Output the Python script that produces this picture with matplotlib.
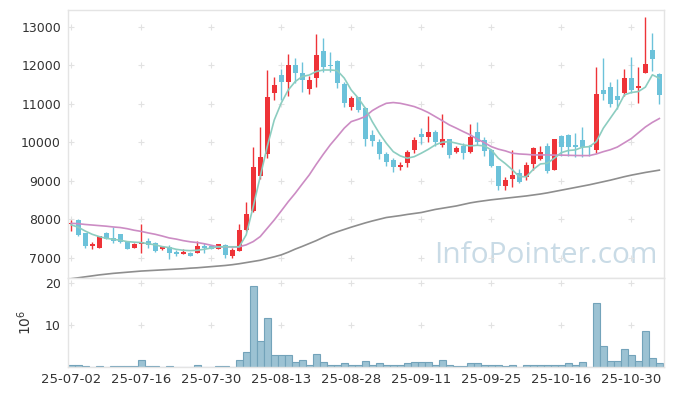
import matplotlib
matplotlib.use("Agg")
import matplotlib.pyplot as plt

# trading days 2025-07-02 .. 2025-11-05
dates = ["07-02", "07-03", "07-04", "07-07", "07-08", "07-09", "07-10", "07-11", "07-14", "07-15",
         "07-16", "07-17", "07-18", "07-21", "07-22", "07-23", "07-24", "07-25", "07-28", "07-29",
         "07-30", "07-31", "08-01", "08-04", "08-05", "08-06", "08-07", "08-08", "08-11", "08-12",
         "08-13", "08-14", "08-18", "08-19", "08-20", "08-21", "08-22", "08-25", "08-26", "08-27",
         "08-28", "08-29", "09-01", "09-02", "09-03", "09-04", "09-05", "09-08", "09-09", "09-10",
         "09-11", "09-12", "09-15", "09-16", "09-17", "09-18", "09-19", "09-22", "09-23", "09-24",
         "09-25", "09-26", "09-29", "09-30", "10-01", "10-02", "10-10", "10-13", "10-14", "10-15",
         "10-16", "10-17", "10-20", "10-21", "10-22", "10-23", "10-24", "10-27", "10-28", "10-29",
         "10-30", "10-31", "11-03", "11-04", "11-05"]

opens = [7880, 7990, 7640, 7300, 7270, 7660, 7530, 7620, 7420, 7270,
         7350, 7440, 7380, 7230, 7280, 7160, 7110, 7140, 7140, 7320,
         7320, 7230, 7340, 7060, 7190, 7730, 8230, 9140, 9700, 11290,
         11750, 11580, 12010, 11800, 11380, 11670, 12380, 12010, 12120, 11520,
         10930, 11170, 10890, 10190, 10000, 9700, 9550, 9370, 9460, 9800,
         10210, 10140, 10270, 9920, 10090, 9740, 9910, 9760, 10260, 10070,
         9800, 9390, 8880, 9060, 9200, 9090, 9440, 9580, 9910, 9290,
         10170, 10200, 9940, 10070, 9900, 9790, 11360, 11430, 11210, 11290,
         11670, 11410, 11810, 12400, 11780]
highs = [7990, 8010, 7660, 7410, 7580, 7670, 7800, 7630, 7430, 7380,
         7880, 7520, 7420, 7300, 7330, 7200, 7220, 7150, 7440, 7380,
         7330, 7360, 7360, 7270, 7880, 8450, 9880, 10390, 11880, 11690,
         11900, 12300, 12190, 12080, 11730, 12810, 12710, 12340, 12130, 11560,
         11210, 11190, 10920, 10330, 10080, 9740, 9600, 9480, 9800, 10150,
         10370, 10690, 10330, 10740, 10100, 9900, 9980, 10470, 10540, 10130,
         9830, 9400, 9090, 9790, 9310, 9500, 9890, 9900, 9980, 10100,
         10200, 10220, 10240, 10390, 9940, 11950, 12190, 11580, 11650, 11900,
         12230, 11960, 13250, 12840, 11800]
lows = [7700, 7580, 7250, 7230, 7260, 7480, 7380, 7380, 7220, 7250,
        7120, 7260, 7160, 7210, 6970, 7060, 7100, 7050, 7130, 7140,
        7220, 7220, 7000, 6990, 7180, 7700, 8200, 9040, 9590, 11090,
        11100, 11210, 11550, 11300, 11260, 11450, 11820, 11840, 11410, 10910,
        10830, 10780, 9910, 9910, 9560, 9390, 9230, 9290, 9370, 9720,
        9960, 10000, 9910, 9890, 9590, 9720, 9560, 9720, 9940, 9650,
        9350, 8770, 8770, 8850, 8940, 9030, 9290, 9540, 9200, 9280,
        9640, 9640, 9630, 9630, 9640, 9720, 11100, 10930, 10870, 11200,
        11280, 11030, 11800, 11860, 10990]
closes = [7900, 7600, 7300, 7360, 7570, 7490, 7440, 7410, 7240, 7360,
          7410, 7340, 7190, 7280, 7120, 7100, 7160, 7060, 7310, 7270,
          7230, 7350, 7080, 7210, 7730, 8140, 9370, 9630, 11170, 11490,
          11580, 12010, 11800, 11610, 11620, 12270, 11950, 11990, 11550, 11020,
          11150, 10830, 10080, 10040, 9690, 9500, 9370, 9420, 9750, 10050,
          10140, 10260, 10000, 10080, 9680, 9850, 9720, 10150, 10020, 9780,
          9390, 8870, 9030, 9160, 8960, 9420, 9860, 9750, 9260, 10090,
          9890, 9890, 9870, 9890, 9890, 11260, 11250, 11000, 11090, 11670,
          11360, 11470, 12040, 12170, 11230]
# volume, millions of shares
volumes = [0.4, 0.4, 0.2, 0.05, 0.2, 0.05, 0.2, 0.2, 0.2, 0.2,
           1.6, 0.2, 0.2, 0.05, 0.2, 0.05, 0.05, 0.05, 0.4, 0.1,
           0.05, 0.2, 0.2, 0.1, 1.6, 3.7, 19.2, 6.3, 11.6, 2.8,
           2.8, 2.8, 1.1, 1.8, 0.6, 3.0, 1.1, 0.6, 0.4, 0.9,
           0.4, 0.4, 1.4, 0.4, 0.9, 0.4, 0.4, 0.4, 0.9, 1.1,
           1.1, 1.1, 0.4, 1.8, 0.4, 0.2, 0.2, 0.9, 0.9, 0.4,
           0.4, 0.6, 0.2, 0.6, 0.1, 0.4, 0.6, 0.4, 0.6, 0.6,
           0.6, 0.9, 0.4, 1.1, 0.1, 15.2, 4.9, 1.4, 1.4, 4.4,
           2.8, 1.4, 8.7, 2.1, 0.9]

# moving averages
ma_short = [7860, 7800, 7700, 7615, 7555, 7510, 7485, 7460, 7425, 7410,
            7400, 7370, 7340, 7295, 7270, 7225, 7200, 7190, 7200, 7225,
            7260, 7290, 7290, 7290, 7290, 7600, 8330, 9110, 9890, 10580,
            11020, 11360, 11580, 11710, 11750, 11840, 11880, 11880, 11865, 11670,
            11360, 11150, 10890, 10540, 10240, 9980, 9760, 9650, 9590, 9630,
            9720, 9820, 9935, 10005, 10020, 9980, 9935, 9910, 9925, 9910,
            9805, 9590, 9450, 9290, 9110, 9110, 9300, 9440, 9460, 9590,
            9735, 9790, 9805, 9875, 9890, 10020, 10370, 10630, 10890, 11235,
            11295, 11320, 11435, 11755, 11665]
ma_mid = [7900, 7890, 7870, 7855, 7840, 7825, 7805, 7790, 7760, 7720,
          7690, 7650, 7615, 7570, 7520, 7490, 7450, 7420, 7400, 7370,
          7330, 7290, 7290, 7285, 7290, 7340, 7425, 7555, 7770, 7985,
          8220, 8460, 8680, 8920, 9155, 9430, 9690, 9935, 10150, 10370,
          10540, 10600, 10670, 10825, 10930, 11015, 11035, 11015, 10975, 10930,
          10860, 10775, 10670, 10565, 10455, 10370, 10280, 10195, 10085, 9995,
          9890, 9825, 9780, 9720, 9700, 9690, 9675, 9675, 9675, 9670,
          9670, 9665, 9660, 9658, 9658, 9700, 9760, 9810, 9880, 9990,
          10100, 10250, 10400, 10520, 10620]
ma_long = [6460, 6485, 6510, 6535, 6560, 6580, 6600, 6615, 6630, 6645,
           6660, 6670, 6680, 6690, 6700, 6710, 6720, 6735, 6745, 6760,
           6775, 6790, 6805, 6825, 6850, 6880, 6910, 6940, 6985, 7030,
           7080, 7150, 7230, 7300, 7375, 7450, 7535, 7615, 7680, 7740,
           7800, 7855, 7910, 7960, 8005, 8050, 8075, 8100, 8130, 8155,
           8180, 8220, 8260, 8290, 8320, 8350, 8390, 8430, 8460, 8485,
           8510, 8530, 8550, 8570, 8590, 8610, 8635, 8660, 8690, 8725,
           8760, 8795, 8830, 8865, 8900, 8940, 8980, 9020, 9065, 9110,
           9150, 9185, 9220, 9250, 9280]

price_ticks = [7000, 8000, 9000, 10000, 11000, 12000, 13000]
vol_ticks = [10, 20]

up_color = "#ee3338"
down_color = "#6cc2da"
grid_color = "#e2e2e2"
spine_color = "#e4e4e4"

fig = plt.figure(figsize=(6.73, 3.96), dpi=100)
ax = fig.add_axes([0.101, 0.298, 0.885, 0.677])
axv = fig.add_axes([0.101, 0.073, 0.885, 0.225], sharex=ax)

x = list(range(len(dates)))
xticks = x[::10]

# candles
for i in x:
    o, h, l, c = opens[i], highs[i], lows[i], closes[i]
    col = up_color if c >= o else down_color
    ax.vlines(i, l, h, color=col, linewidth=1.0, zorder=2)
    bottom = min(o, c)
    height = max(abs(c - o), 15)
    ax.bar(i, height, bottom=bottom, width=0.72, color=col, zorder=3)

ax.plot(x, ma_long, color="#8e8e8e", linewidth=1.2, zorder=4)
ax.plot(x, ma_mid, color="#cc8cc4", linewidth=1.2, zorder=4)
ax.plot(x, ma_short, color="#8ccdc0", linewidth=1.2, zorder=4)

ax.set_ylim(6480, 13440)
ax.set_yticks(price_ticks)
ax.set_xlim(-0.45, 84.6)

# grid as small crosses
gx = [t for t in xticks for _ in price_ticks]
gy = [p for _ in xticks for p in price_ticks]
ax.plot(gx, gy, linestyle="none", marker="+", markersize=4.5, color=grid_color,
        markeredgewidth=0.8, zorder=1)

ax.text(0.802, 0.085, "InfoPointer.com", transform=ax.transAxes, ha="center",
        va="center", fontsize=21.5, color="#c9dbe6", family="Open Sans", zorder=0)

# volume
axv.bar(x, volumes, width=1.0, color="#9cc2d3", edgecolor="#73a3ba",
        linewidth=0.8, zorder=2)
axv.set_ylim(0, 21.2)
axv.set_yticks(vol_ticks)
gx = [t for t in xticks for _ in vol_ticks]
gy = [v for _ in xticks for v in vol_ticks]
axv.plot(gx, gy, linestyle="none", marker="+", markersize=4.5, color=grid_color,
         markeredgewidth=0.8, zorder=1)
axv.set_ylabel("$10^6$", fontsize=10, color="#333333", labelpad=8)

axv.set_xticks(xticks)
axv.set_xticklabels(["25-" + dates[i] for i in xticks])

for a in (ax, axv):
    for s in a.spines.values():
        s.set_color(spine_color)
        s.set_linewidth(1.0)
    a.tick_params(length=0, labelsize=9, colors="#333333", pad=5)
ax.tick_params(labelbottom=False)
axv.tick_params(axis="x", labelsize=9.5, pad=4)

fig.savefig("out.png", dpi=100)
